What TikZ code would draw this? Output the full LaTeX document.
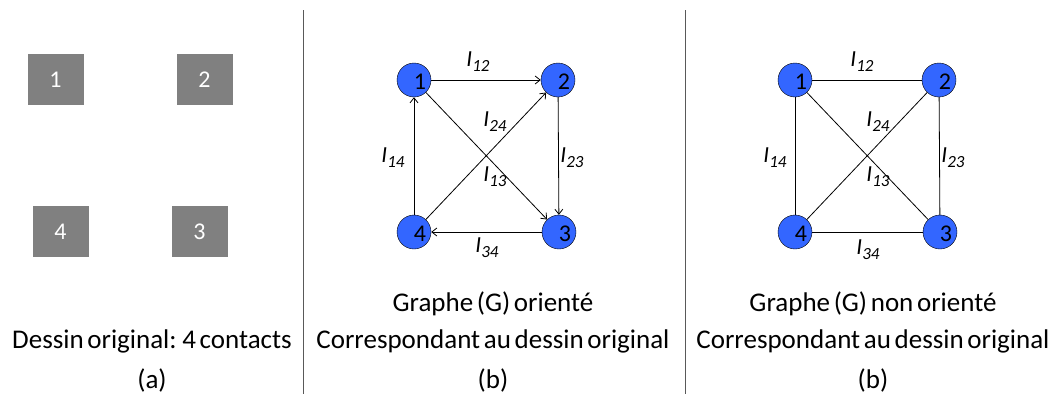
\documentclass[tikz,border=0pt]{standalone}
\usepackage{fontspec}
\setmainfont{Carlito}[WordSpace=0.6]
\usetikzlibrary{arrows.meta}
\definecolor{nodeblue}{RGB}{51,102,255}
\definecolor{padgray}{RGB}{128,128,128}
\newcommand{\curr}[1]{I\raisebox{-0.45ex}{\fontsize{17}{17}\selectfont #1}}
\tikzset{
  pad/.style={fill=padgray, text=white, minimum width=56pt, minimum height=51pt, inner sep=0pt, font=\fontsize{24}{26}\selectfont},
  vertex/.style={circle, draw=black, fill=nodeblue, minimum size=34pt, inner sep=0pt, font=\fontsize{24}{26}\selectfont},
  vnum/.style={font=\fontsize{24}{26}\selectfont, inner sep=0pt},
  elabel/.style={font=\fontsize{23}{25}\selectfont\itshape, inner sep=1pt},
  caption/.style={font=\fontsize{27}{30}\selectfont},
  arc/.style={line width=0.8pt},
  tip/.style={-{Straight Barb[length=5pt, width=8pt]}}
}
\begin{document}
\begin{tikzpicture}[x=1pt, y=-1pt]
  \useasboundingbox (0, 0) rectangle (1058, 394);

  % separators
  \draw[gray!70!black] (303, 10) -- (303, 394);
  \draw[gray!70!black] (685, 10) -- (685, 394);

  % (a) original drawing: four contact pads
  \node[pad] (p1) at (55.5, 79.5) {1};
  \node[pad] (p2) at (204.5, 79.5) {2};
  \node[pad] (p4) at (60.5, 231.5) {4};
  \node[pad] (p3) at (199.5, 231.5) {3};

  \node[caption] (capa) at (152, 341) {Dessin original: 4 contacts};
  \node[caption] (taga) at (152, 380) {(a)};

  % (b) directed graph
  \node[vertex] (b1) at (414, 80) {};
  \node[vertex] (b2) at (558, 80) {};
  \node[vertex] (b3) at (559, 232) {};
  \node[vertex] (b4) at (414, 232) {};
  \foreach \n in {1,...,4}
    \node[vnum] at ([shift={(6,2)}]b\n.center) {\n};

  \draw[arc, tip] (b1) -- (b2);
  \draw[arc, tip] (b2) -- (b3);
  \draw[arc, tip] (b1) -- (b3);
  \draw[arc, tip] (b4) -- (b2);
  \draw[arc, tip] (b3) -- (b4);
  \draw[arc, tip] (b4) -- (b1);

  \node[elabel] (b12) at (478, 62) {\curr{12}};
  \node[elabel] (b24) at (495, 122) {\curr{24}};
  \node[elabel] (b14) at (393, 158) {\curr{14}};
  \node[elabel] (b23) at (572, 158) {\curr{23}};
  \node[elabel] (b13) at (495, 177) {\curr{13}};
  \node[elabel] (b34) at (487, 248) {\curr{34}};

  \node[caption] (capb1) at (493, 304) {Graphe (G) orienté};
  \node[caption] (capb2) at (493, 341) {Correspondant au dessin original};
  \node[caption] (tagb) at (493, 380) {(b)};

  % (c) undirected graph
  \node[vertex] (c1) at (795, 80) {};
  \node[vertex] (c2) at (939, 80) {};
  \node[vertex] (c3) at (940, 232) {};
  \node[vertex] (c4) at (795, 232) {};
  \foreach \n in {1,...,4}
    \node[vnum] at ([shift={(6,2)}]c\n.center) {\n};

  \draw[arc] (c1) -- (c2);
  \draw[arc] (c2) -- (c3);
  \draw[arc] (c1) -- (c3);
  \draw[arc] (c4) -- (c2);
  \draw[arc] (c3) -- (c4);
  \draw[arc] (c4) -- (c1);

  \node[elabel] (c12) at (862, 62) {\curr{12}};
  \node[elabel] (c24) at (878, 122) {\curr{24}};
  \node[elabel] (c14) at (775, 158) {\curr{14}};
  \node[elabel] (c23) at (953, 158) {\curr{23}};
  \node[elabel] (c13) at (878, 177) {\curr{13}};
  \node[elabel] (c34) at (868, 250) {\curr{34}};

  \node[caption] (capc1) at (873, 304) {Graphe (G) non orienté};
  \node[caption] (capc2) at (873, 341) {Correspondant au dessin original};
  \node[caption] (tagc) at (873, 380) {(b)};
\end{tikzpicture}
\end{document}
